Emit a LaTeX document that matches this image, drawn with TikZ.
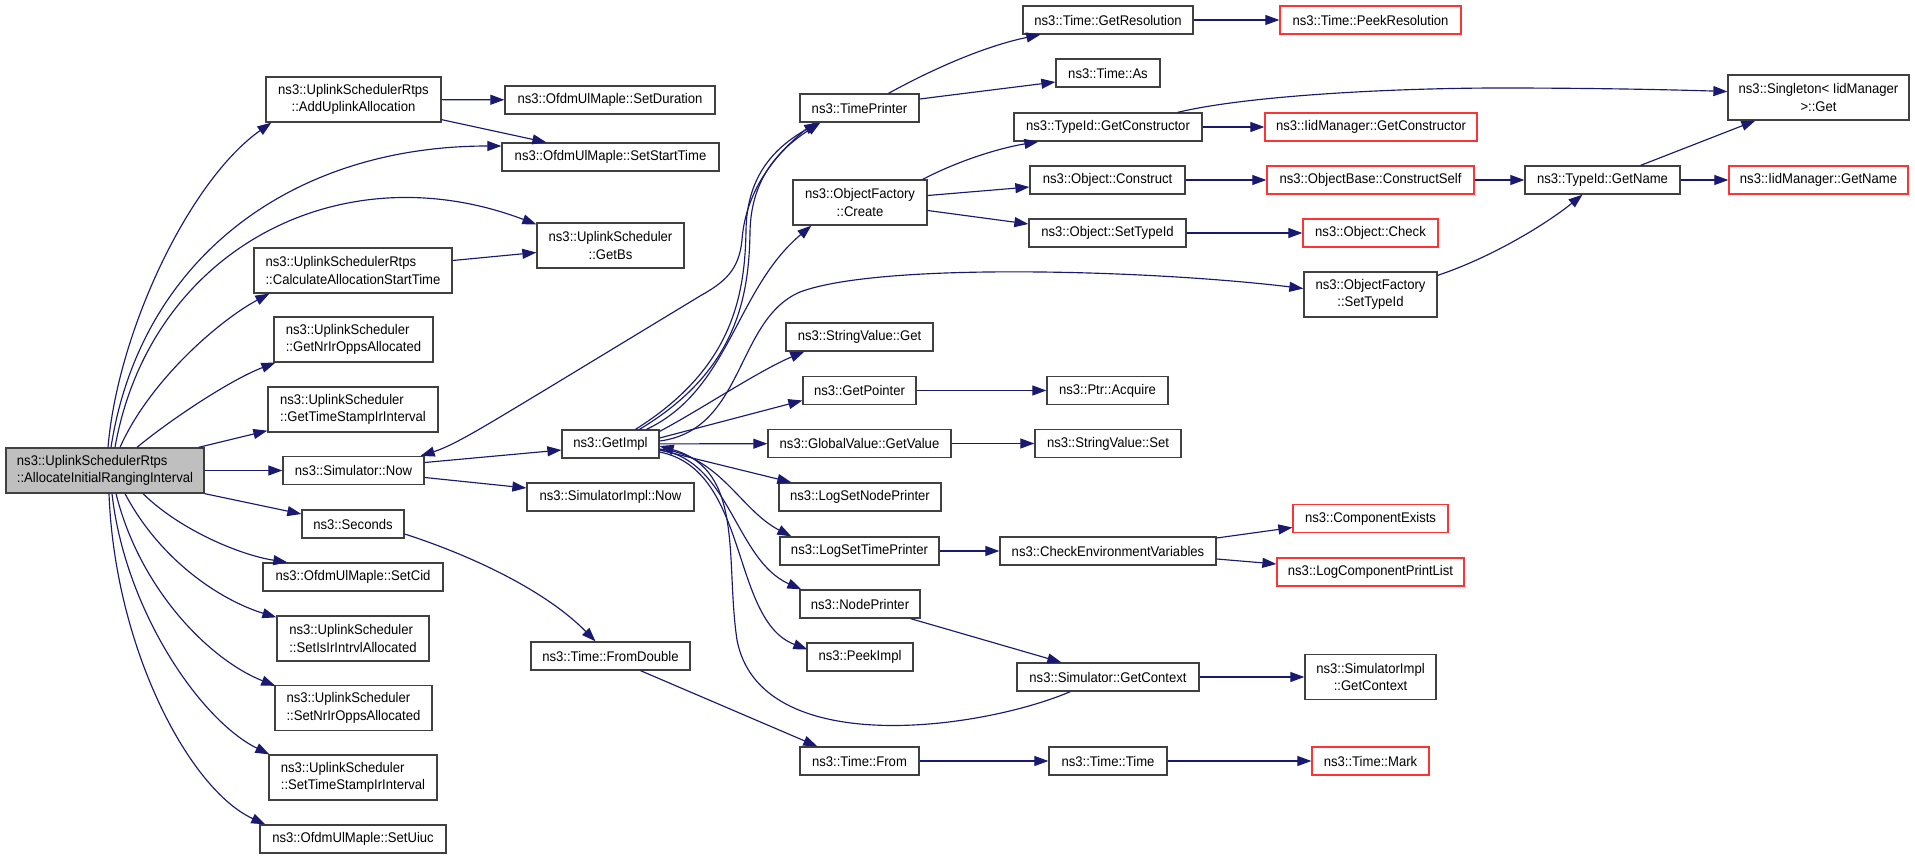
\documentclass[tikz,border=0pt]{standalone}
\usepackage{fontspec}
\setmainfont[FakeStretch=0.935]{Liberation Sans}
\usetikzlibrary{arrows.meta,calc}
\definecolor{edgeblue}{HTML}{191970}
\definecolor{boxgray}{HTML}{404040}
\definecolor{fillgray}{HTML}{BFBFBF}
\definecolor{truncred}{HTML}{FF3333}
\begin{document}
\begin{tikzpicture}[x=1pt,y=-1pt,
  box/.style={draw=boxgray, line width=1.3pt, inner sep=0pt, align=center, fill=white, text=black,
              font=\fontsize{14}{17.5}\selectfont},
  redbox/.style={box, draw=truncred},
  mainbox/.style={box, fill=fillgray},
  one/.style={minimum height=28pt},
  two/.style={minimum height=45pt},
  callarrow/.style={draw=edgeblue, line width=1.15pt, -{Triangle[length=14pt,width=10pt]}}]
\useasboundingbox (0,0) rectangle (1915,859);

% ---------- column 1/2 ----------
\node[mainbox,two,align=left,minimum width=198pt] (main) at (105,470.5) {ns3::UplinkSchedulerRtps\\::AllocateInitialRangingInterval};
\node[box,two,minimum width=175pt] (addu) at (353.5,99.5) {ns3::UplinkSchedulerRtps\\::AddUplinkAllocation};
\node[box,one,minimum width=210pt] (setdur) at (610,100) {ns3::OfdmUlMaple::SetDuration};
\node[box,one,minimum width=217pt] (setst) at (610.5,157) {ns3::OfdmUlMaple::SetStartTime};
\node[box,two,minimum width=147pt] (getbs) at (610.5,245.5) {ns3::UplinkScheduler\\::GetBs};
\node[box,two,align=left,minimum width=198pt] (calc) at (353,270.5) {ns3::UplinkSchedulerRtps\\::CalculateAllocationStartTime};
\node[box,two,align=left,minimum width=159pt] (getnr) at (353.5,339.5) {ns3::UplinkScheduler\\::GetNrIrOppsAllocated};
\node[box,two,align=left,minimum width=170pt] (getts) at (353,409.5) {ns3::UplinkScheduler\\::GetTimeStampIrInterval};
\node[box,one,minimum width=141pt] (snow) at (353.5,470.5) {ns3::Simulator::Now};
\node[box,one,minimum width=97pt] (getimpl) at (610.5,444) {ns3::GetImpl};
\node[box,one,minimum width=167pt] (simnow) at (610.5,497) {ns3::SimulatorImpl::Now};
\node[box,one,minimum width=102pt] (seconds) at (353,524) {ns3::Seconds};
\node[box,one,minimum width=180pt] (setcid) at (353,577) {ns3::OfdmUlMaple::SetCid};
\node[box,two,align=left,minimum width=152pt] (setis) at (353,638.5) {ns3::UplinkScheduler\\::SetIsIrIntrvlAllocated};
\node[box,one,minimum width=159pt] (fromdbl) at (610.5,656) {ns3::Time::FromDouble};
\node[box,two,align=left,minimum width=157pt] (setnr) at (353.5,708) {ns3::UplinkScheduler\\::SetNrIrOppsAllocated};
\node[box,two,align=left,minimum width=168pt] (setts) at (353,777.5) {ns3::UplinkScheduler\\::SetTimeStampIrInterval};
\node[box,one,minimum width=186pt] (setuiuc) at (353,839) {ns3::OfdmUlMaple::SetUiuc};

% ---------- column 3 ----------
\node[box,one,minimum width=119pt] (tprint) at (859.5,108) {ns3::TimePrinter};
\node[box,two,minimum width=134pt] (create) at (860,202.5) {ns3::ObjectFactory\\::Create};
\node[box,one,minimum width=147pt] (svget) at (859.5,337) {ns3::StringValue::Get};
\node[box,one,minimum width=113pt] (getptr) at (859.5,390.5) {ns3::GetPointer};
\node[box,one,minimum width=183pt] (gvget) at (859.5,443.5) {ns3::GlobalValue::GetValue};
\node[box,one,minimum width=162pt] (lsnp) at (860,497) {ns3::LogSetNodePrinter};
\node[box,one,minimum width=159pt] (lstp) at (859.5,551) {ns3::LogSetTimePrinter};
\node[box,one,minimum width=120pt] (nodepr) at (860,604) {ns3::NodePrinter};
\node[box,one,minimum width=106pt] (peekimpl) at (860,657) {ns3::PeekImpl};
\node[box,one,minimum width=119pt] (tfrom) at (859.5,761) {ns3::Time::From};

% ---------- column 4 ----------
\node[box,one,minimum width=170pt] (getres) at (1108,20) {ns3::Time::GetResolution};
\node[box,one,minimum width=104pt] (tas) at (1108,73) {ns3::Time::As};
\node[box,one,minimum width=188pt] (getctor) at (1108,127) {ns3::TypeId::GetConstructor};
\node[box,one,minimum width=155pt] (construct) at (1107.5,180) {ns3::Object::Construct};
\node[box,one,minimum width=157pt] (osettid) at (1107.5,233) {ns3::Object::SetTypeId};
\node[box,one,minimum width=121pt] (acquire) at (1107.5,390.5) {ns3::Ptr::Acquire};
\node[box,one,minimum width=146pt] (svset) at (1108,443.5) {ns3::StringValue::Set};
\node[box,one,minimum width=216pt] (chkenv) at (1108,551) {ns3::CheckEnvironmentVariables};
\node[box,one,minimum width=182pt] (getctx) at (1108,677) {ns3::Simulator::GetContext};
\node[box,one,minimum width=118pt] (ttime) at (1108,761) {ns3::Time::Time};

% ---------- column 5 ----------
\node[redbox,one,minimum width=181pt] (peekres) at (1370.5,20) {ns3::Time::PeekResolution};
\node[redbox,one,minimum width=212pt] (iidctor) at (1371,127) {ns3::IidManager::GetConstructor};
\node[redbox,one,minimum width=207pt] (cself) at (1370.5,180) {ns3::ObjectBase::ConstructSelf};
\node[redbox,one,minimum width=135pt] (ocheck) at (1370.5,233) {ns3::Object::Check};
\node[box,two,minimum width=133pt] (ofsettid) at (1370.5,294.5) {ns3::ObjectFactory\\::SetTypeId};
\node[redbox,one,minimum width=155pt] (compex) at (1370.5,518.5) {ns3::ComponentExists};
\node[redbox,one,minimum width=187pt] (logcpl) at (1370.5,572) {ns3::LogComponentPrintList};
\node[box,two,minimum width=131pt] (simictx) at (1370.5,677) {ns3::SimulatorImpl\\::GetContext};
\node[redbox,one,minimum width=117pt] (tmark) at (1370.5,761) {ns3::Time::Mark};

% ---------- columns 6/7 ----------
\node[box,one,minimum width=155pt] (gname) at (1602.5,180) {ns3::TypeId::GetName};
\node[box,two,minimum width=181pt] (single) at (1818.5,97.5) {ns3::Singleton< IidManager\\>::Get};
\node[redbox,one,minimum width=179pt] (iidname) at (1818.5,180) {ns3::IidManager::GetName};

% ---------- edges from main ----------
\draw[callarrow] ($(main.north)+(3,0)$) .. controls (118,330) and (190,180) .. ($(addu.south west)+(6,0)$);
\draw[callarrow] ($(main.north)+(6,0)$) .. controls (140,260) and (290,146) .. ($(setst.west)+(0,-11)$);
\draw[callarrow] ($(main.north)+(10,0)$) .. controls (150,250) and (340,150) .. ($(getbs.north west)+(0,2)$);
\draw[callarrow] ($(main.north)+(15,0)$) .. controls (150,380) and (220,320) .. ($(calc.south west)+(16,0)$);
\draw[callarrow] ($(main.north)+(32,0)$) .. controls (170,420) and (230,380) .. ($(getnr.south west)+(2,0)$);
\draw[callarrow] ($(main.north east)+(-6,0)$) -- ($(getts.south west)+(0,-2)$);
\draw[callarrow] (main) -- (snow);
\draw[callarrow] (main.south east) -- ($(seconds.west)+(0,-10)$);
\draw[callarrow] ($(main.south)+(38,0)$) .. controls (180,530) and (240,555) .. ($(setcid.north west)+(25,0)$);
\draw[callarrow] ($(main.south)+(20,0)$) .. controls (160,560) and (220,600) .. ($(setis.north west)+(0,2)$);
\draw[callarrow] ($(main.south)+(11,0)$) .. controls (140,590) and (210,660) .. ($(setnr.north west)+(1,1)$);
\draw[callarrow] ($(main.south)+(7,0)$) .. controls (125,610) and (200,720) .. ($(setts.north west)+(1,0)$);
\draw[callarrow] ($(main.south)+(4,0)$) .. controls (115,650) and (190,790) .. ($(setuiuc.north west)+(6,0)$);

% ---------- other edges ----------
\draw[callarrow] (addu) -- (setdur);
\draw[callarrow] ($(addu.south east)+(0,-3)$) -- ($(setst.north west)+(45,0)$);
\draw[callarrow] ($(calc.east)+(0,-10)$) -- ($(getbs.west)+(0,7)$);
\draw[callarrow] ($(snow.east)+(0,-8)$) -- ($(getimpl.west)+(0,6)$);
\draw[callarrow] ($(snow.east)+(0,7)$) -- ($(simnow.west)+(0,-9)$);
\draw[callarrow] ($(tprint.south west)+(15,0)$) .. controls (765,160) and (745,200) .. (742,240)
   .. controls (739,270) and (725,282) .. (700,296) -- (545,390)
   .. controls (490,423) and (455,445) .. ($(snow.north east)+(-4,0)$);
\draw[callarrow] ($(getimpl.north)+(25,0)$) .. controls (730,370) and (745,300) .. (746,230)
   .. controls (747,180) and (770,150) .. ($(tprint.south west)+(19,0)$);
\draw[callarrow] ($(getimpl.north)+(29,0)$) .. controls (735,372) and (749,300) .. (750,232)
   .. controls (751,182) and (775,152) .. ($(tprint.south west)+(21,0)$);
\draw[callarrow] ($(getimpl.north)+(36,0)$) .. controls (730,390) and (735,290) .. ($(create.south west)+(19,0)$);
\draw[callarrow] ($(getimpl.east)+(0,-3)$) .. controls (745,430) and (735,320) .. (800,292)
   .. controls (880,262) and (1150,270) .. ($(ofsettid.west)+(0,-6)$);
\draw[callarrow] ($(getimpl.north east)+(0,2)$) .. controls (700,410) and (760,370) .. ($(svget.south west)+(19,0)$);
\draw[callarrow] ($(getimpl.east)+(0,-6)$) -- ($(getptr.west)+(0,10)$);
\draw[callarrow] (getimpl) -- (gvget);
\draw[callarrow] ($(getimpl.east)+(0,6)$) -- ($(lsnp.north west)+(13,0)$);
\draw[callarrow] ($(getimpl.east)+(0,5)$) .. controls (720,455) and (740,510) .. ($(lstp.north west)+(12,0)$);
\draw[callarrow] ($(getimpl.east)+(0,6)$) .. controls (730,460) and (735,560) .. ($(nodepr.north west)+(2,0)$);
\draw[callarrow] ($(getimpl.east)+(0,8)$) .. controls (750,470) and (730,620) .. ($(peekimpl.north west)+(1,7)$);
\draw[callarrow] ($(getctx.south west)+(54,0)$) .. controls (980,730) and (760,760) .. (737,640)
   .. controls (725,560) and (745,470) .. ($(getimpl.east)+(0,2)$);
\draw[callarrow] (getctx) -- (simictx);
\draw[callarrow] ($(nodepr.south east)+(-10,0)$) -- ($(getctx.north west)+(45,0)$);
\draw[callarrow] (lstp) -- (chkenv);
\draw[callarrow] ($(chkenv.east)+(0,-13)$) -- ($(compex.west)+(0,9)$);
\draw[callarrow] ($(chkenv.east)+(0,8)$) -- ($(logcpl.west)+(0,-8)$);
\draw[callarrow] (getptr) -- (acquire);
\draw[callarrow] (gvget) -- (svset);
\draw[callarrow] ($(seconds.east)+(0,10)$) .. controls (470,555) and (545,590) .. ($(fromdbl.north)+(-15,0)$);
\draw[callarrow] ($(fromdbl.south)+(30,0)$) -- ($(tfrom.north west)+(18,0)$);
\draw[callarrow] (tfrom) -- (ttime);
\draw[callarrow] (ttime) -- (tmark);
\draw[callarrow] ($(tprint.north)+(29,0)$) .. controls (940,65) and (990,45) .. ($(getres.south west)+(18,0)$);
\draw[callarrow] ($(tprint.east)+(0,-9)$) -- ($(tas.west)+(0,9)$);
\draw[callarrow] (getres) -- (peekres);
\draw[callarrow] ($(create.north east)+(-5,0)$) .. controls (960,160) and (1000,148) .. ($(getctor.south west)+(25,0)$);
\draw[callarrow] ($(create.east)+(0,-7)$) -- ($(construct.west)+(0,7)$);
\draw[callarrow] ($(create.east)+(0,8)$) -- ($(osettid.west)+(0,-9)$);
\draw[callarrow] ($(getctor.north east)+(-25,0)$) .. controls (1250,95) and (1400,88) .. (1500,88)
   .. controls (1600,88) and (1680,90) .. ($(single.west)+(0,-6)$);
\draw[callarrow] (getctor) -- (iidctor);
\draw[callarrow] (construct) -- (cself);
\draw[callarrow] (cself) -- (gname);
\draw[callarrow] ($(gname.north east)+(-40,0)$) -- ($(single.south west)+(28,0)$);
\draw[callarrow] (gname) -- (iidname);
\draw[callarrow] (osettid) -- (ocheck);
\draw[callarrow] ($(ofsettid.north east)+(0,4)$) .. controls (1490,258) and (1545,225) .. ($(gname.south)+(-20,0)$);
\end{tikzpicture}
\end{document}
